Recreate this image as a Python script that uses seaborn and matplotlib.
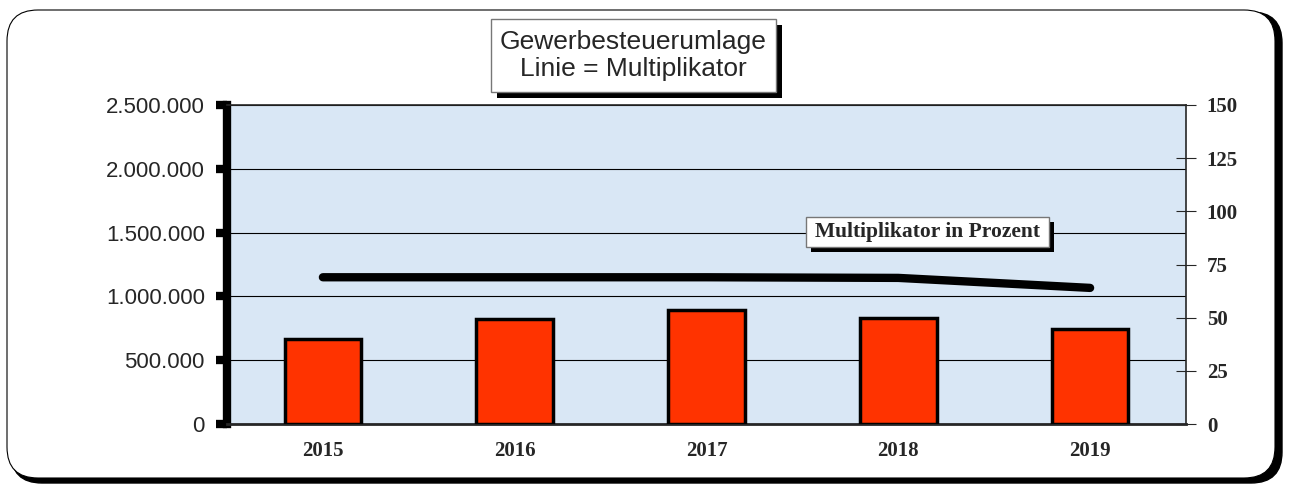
import matplotlib.pyplot as plt
import numpy as np
import seaborn as sns
import pandas as pd
from matplotlib.patches import FancyBboxPatch, Rectangle
from matplotlib.ticker import FuncFormatter, FixedLocator

years = ['2015', '2016', '2017', '2018', '2019']
umlage = [664000, 820000, 893000, 828000, 744000]
multiplikator = [69, 69, 69, 68.7, 64]

sns.set_style('white')
plt.rcParams['font.family'] = ['Liberation Sans', 'DejaVu Sans']

W, H = 1290, 484
fig = plt.figure(figsize=(12.9, 4.84), dpi=100)
ax = fig.add_axes([227 / W, 1 - 424 / H, 959 / W, 319 / H])


def px_box(x0, y0, x1, y1, off, edge='#777777'):
    # white box with black drop shadow, pixel coords from top-left
    sh = Rectangle(((x0 + off) / W, 1 - (y1 + off) / H), (x1 - x0) / W, (y1 - y0) / H,
                   transform=fig.transFigure, facecolor='black', edgecolor='none', zorder=10)
    bx = Rectangle((x0 / W, 1 - y1 / H), (x1 - x0) / W, (y1 - y0) / H,
                   transform=fig.transFigure, facecolor='white', edgecolor=edge, lw=1, zorder=11)
    fig.patches.extend([sh, bx])
    return (x0 + x1) / 2 / W, 1 - (y0 + y1) / 2 / H


# outer rounded frame with shadow
rs = 0.024
shadow = FancyBboxPatch((11 / W, 1 - 483 / H), 1271 / W, 471 / H,
                        boxstyle=f'round,pad=0,rounding_size={rs}', transform=fig.transFigure,
                        facecolor='black', edgecolor='black', mutation_aspect=W / H, zorder=-3)
frame = FancyBboxPatch((7 / W, 1 - 478 / H), 1268 / W, 468 / H,
                       boxstyle=f'round,pad=0,rounding_size={rs}', transform=fig.transFigure,
                       facecolor='white', edgecolor='black', lw=0.8, mutation_aspect=W / H, zorder=-2)
fig.patches.extend([shadow, frame])

df = pd.DataFrame({'Jahr': years, 'Umlage': umlage})
ax.set_facecolor('#d9e7f5')
sns.barplot(data=df, x='Jahr', y='Umlage', color='#ff3300', width=0.4, saturation=1,
            edgecolor='black', linewidth=2.5, ax=ax, zorder=3)

ax.set_ylim(0, 2500000)
ax.set_xlim(-0.5, 4.5)
ax.set_yticks([0, 500000, 1000000, 1500000, 2000000, 2500000])
ax.yaxis.set_major_formatter(FuncFormatter(lambda v, p: f'{int(v):,}'.replace(',', '.')))
ax.grid(axis='y', color='black', lw=0.8)
ax.set_axisbelow(True)
ax.set_xlabel('')
ax.set_ylabel('')
ax.tick_params(axis='y', length=8, width=6, color='black', labelsize=16, pad=8)
ax.tick_params(axis='x', which='major', length=0, pad=12)
ax.xaxis.set_minor_locator(FixedLocator([0.5, 1.5, 2.5, 3.5, 4.5]))
ax.tick_params(axis='x', which='minor', length=14, width=0.8, direction='inout')
for label in ax.get_xticklabels():
    label.set_fontfamily('Liberation Serif')
    label.set_fontweight('bold')
    label.set_fontsize(15)
for side in ['top', 'right']:
    ax.spines[side].set_linewidth(1.2)
ax.spines['left'].set_linewidth(6)
ax.spines['left'].set_color('black')
ax.spines['bottom'].set_linewidth(2)

ax2 = ax.twinx()
sns.lineplot(x=np.arange(len(years)), y=multiplikator, color='black', lw=6, ax=ax2,
             solid_capstyle='round', zorder=4)
ax2.set_ylim(0, 150)
ax2.set_yticks([0, 25, 50, 75, 100, 125, 150])
ax2.tick_params(axis='y', length=14, width=0.8, direction='inout', labelsize=15, pad=8)
for label in ax2.get_yticklabels():
    label.set_fontfamily('Liberation Serif')
    label.set_fontweight('bold')
for sp in ax2.spines.values():
    sp.set_visible(False)

# title box
cx, cy = px_box(491, 19, 776, 92, 6)
fig.text(cx, cy, 'Gewerbesteuerumlage\nLinie = Multiplikator', ha='center', va='center',
         fontsize=19, linespacing=1.15, zorder=12)

# series label
cx, cy = px_box(806, 217, 1049, 247, 5)
fig.text(cx, cy, 'Multiplikator in Prozent', ha='center', va='center', fontsize=15.5,
         fontweight='bold', family='Liberation Serif', zorder=12)

fig.savefig('out.png', dpi=100)
